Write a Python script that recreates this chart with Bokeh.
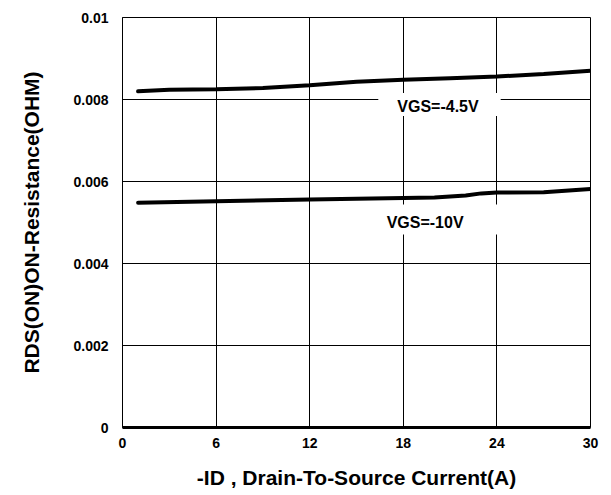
from bokeh.plotting import figure
from bokeh.models import Range1d, FixedTicker, Label
from bokeh.embed import file_html
from bokeh.resources import INLINE

# ---- data ----
id_vgs45 = [1, 3, 6, 9, 12, 15, 18, 21, 24, 27, 30]
rds_vgs45 = [0.00820, 0.00824, 0.00825, 0.00828, 0.00835, 0.00843, 0.00848,
             0.00852, 0.00856, 0.00862, 0.00870]
id_vgs10 = [1, 6, 12, 18, 20, 22, 23, 24, 27, 30]
rds_vgs10 = [0.00548, 0.00552, 0.00556, 0.00560, 0.00561, 0.00566, 0.00571,
             0.00573, 0.00574, 0.00582]
x_ticks = [0, 6, 12, 18, 24, 30]
y_ticks = [0, 0.002, 0.004, 0.006, 0.008, 0.01]
y_tick_labels = ["0", "0.002", "0.004", "0.006", "0.008", "0.01"]
series_names = ["VGS=-4.5V", "VGS=-10V"]
x_title = "-ID , Drain-To-Source Current(A)"
y_title = "RDS(ON)ON-Resistance(OHM)"

FONT = "Liberation Sans"

p = figure(width=608, height=495, output_backend="svg", toolbar_location=None,
           x_range=Range1d(0, 30), y_range=Range1d(0, 0.01),
           min_border_left=122, min_border_right=18, min_border_top=17,
           min_border_bottom=68)
p.background_fill_color = "white"
p.border_fill_color = "white"
p.outline_line_color = "black"
p.outline_line_width = 1

# grid
p.xgrid.ticker = FixedTicker(ticks=x_ticks)
p.ygrid.ticker = FixedTicker(ticks=y_ticks)
for g in (p.xgrid, p.ygrid):
    g.grid_line_color = "black"
    g.grid_line_width = 1
    g.grid_line_alpha = 1

# axes
p.xaxis.ticker = FixedTicker(ticks=x_ticks)
p.yaxis.ticker = FixedTicker(ticks=y_ticks)
p.yaxis.major_label_overrides = {t: l for t, l in zip(y_ticks, y_tick_labels)}
for ax in (p.xaxis, p.yaxis):
    ax.major_tick_in = 0
    ax.major_tick_out = 0
    ax.minor_tick_in = 0
    ax.minor_tick_out = 0
    ax.major_label_text_font = FONT
    ax.major_label_text_font_style = "bold"
    ax.major_label_text_font_size = "14px"
    ax.major_label_text_color = "black"
    ax.axis_line_color = "black"
    ax.axis_label_text_font = FONT
    ax.axis_label_text_font_style = "bold"
    ax.axis_label_text_font_size = "21px"
    ax.axis_label_text_color = "black"
p.xaxis.axis_label = x_title
p.yaxis.axis_label = y_title
p.xaxis.axis_line_width = 3
p.yaxis.axis_line_width = 1
p.xaxis.major_label_standoff = 10
p.yaxis.major_label_standoff = 14
p.xaxis.axis_label_standoff = 15
p.yaxis.axis_label_standoff = 27

# curves
p.line(id_vgs45, rds_vgs45, line_color="black", line_width=4, line_cap="round")
p.line(id_vgs10, rds_vgs10, line_color="black", line_width=4, line_cap="round")

# series labels with white boxes
p.add_layout(Label(x=20.32, y=0.00788, text=series_names[0], text_align="center",
                   text_baseline="middle", text_font=FONT, text_font_style="bold",
                   text_font_size="16px", text_color="black",
                   background_fill_color="white",
                   padding=dict(left=19, right=22, top=5, bottom=1)))
p.add_layout(Label(x=20.04, y=0.005075, text=series_names[1], text_align="center",
                   text_baseline="middle", text_font=FONT, text_font_style="bold",
                   text_font_size="16px", text_color="black",
                   background_fill_color="white",
                   padding=dict(left=14, right=34, top=10, bottom=3)))

open("out.html", "w").write(file_html(p, INLINE))
